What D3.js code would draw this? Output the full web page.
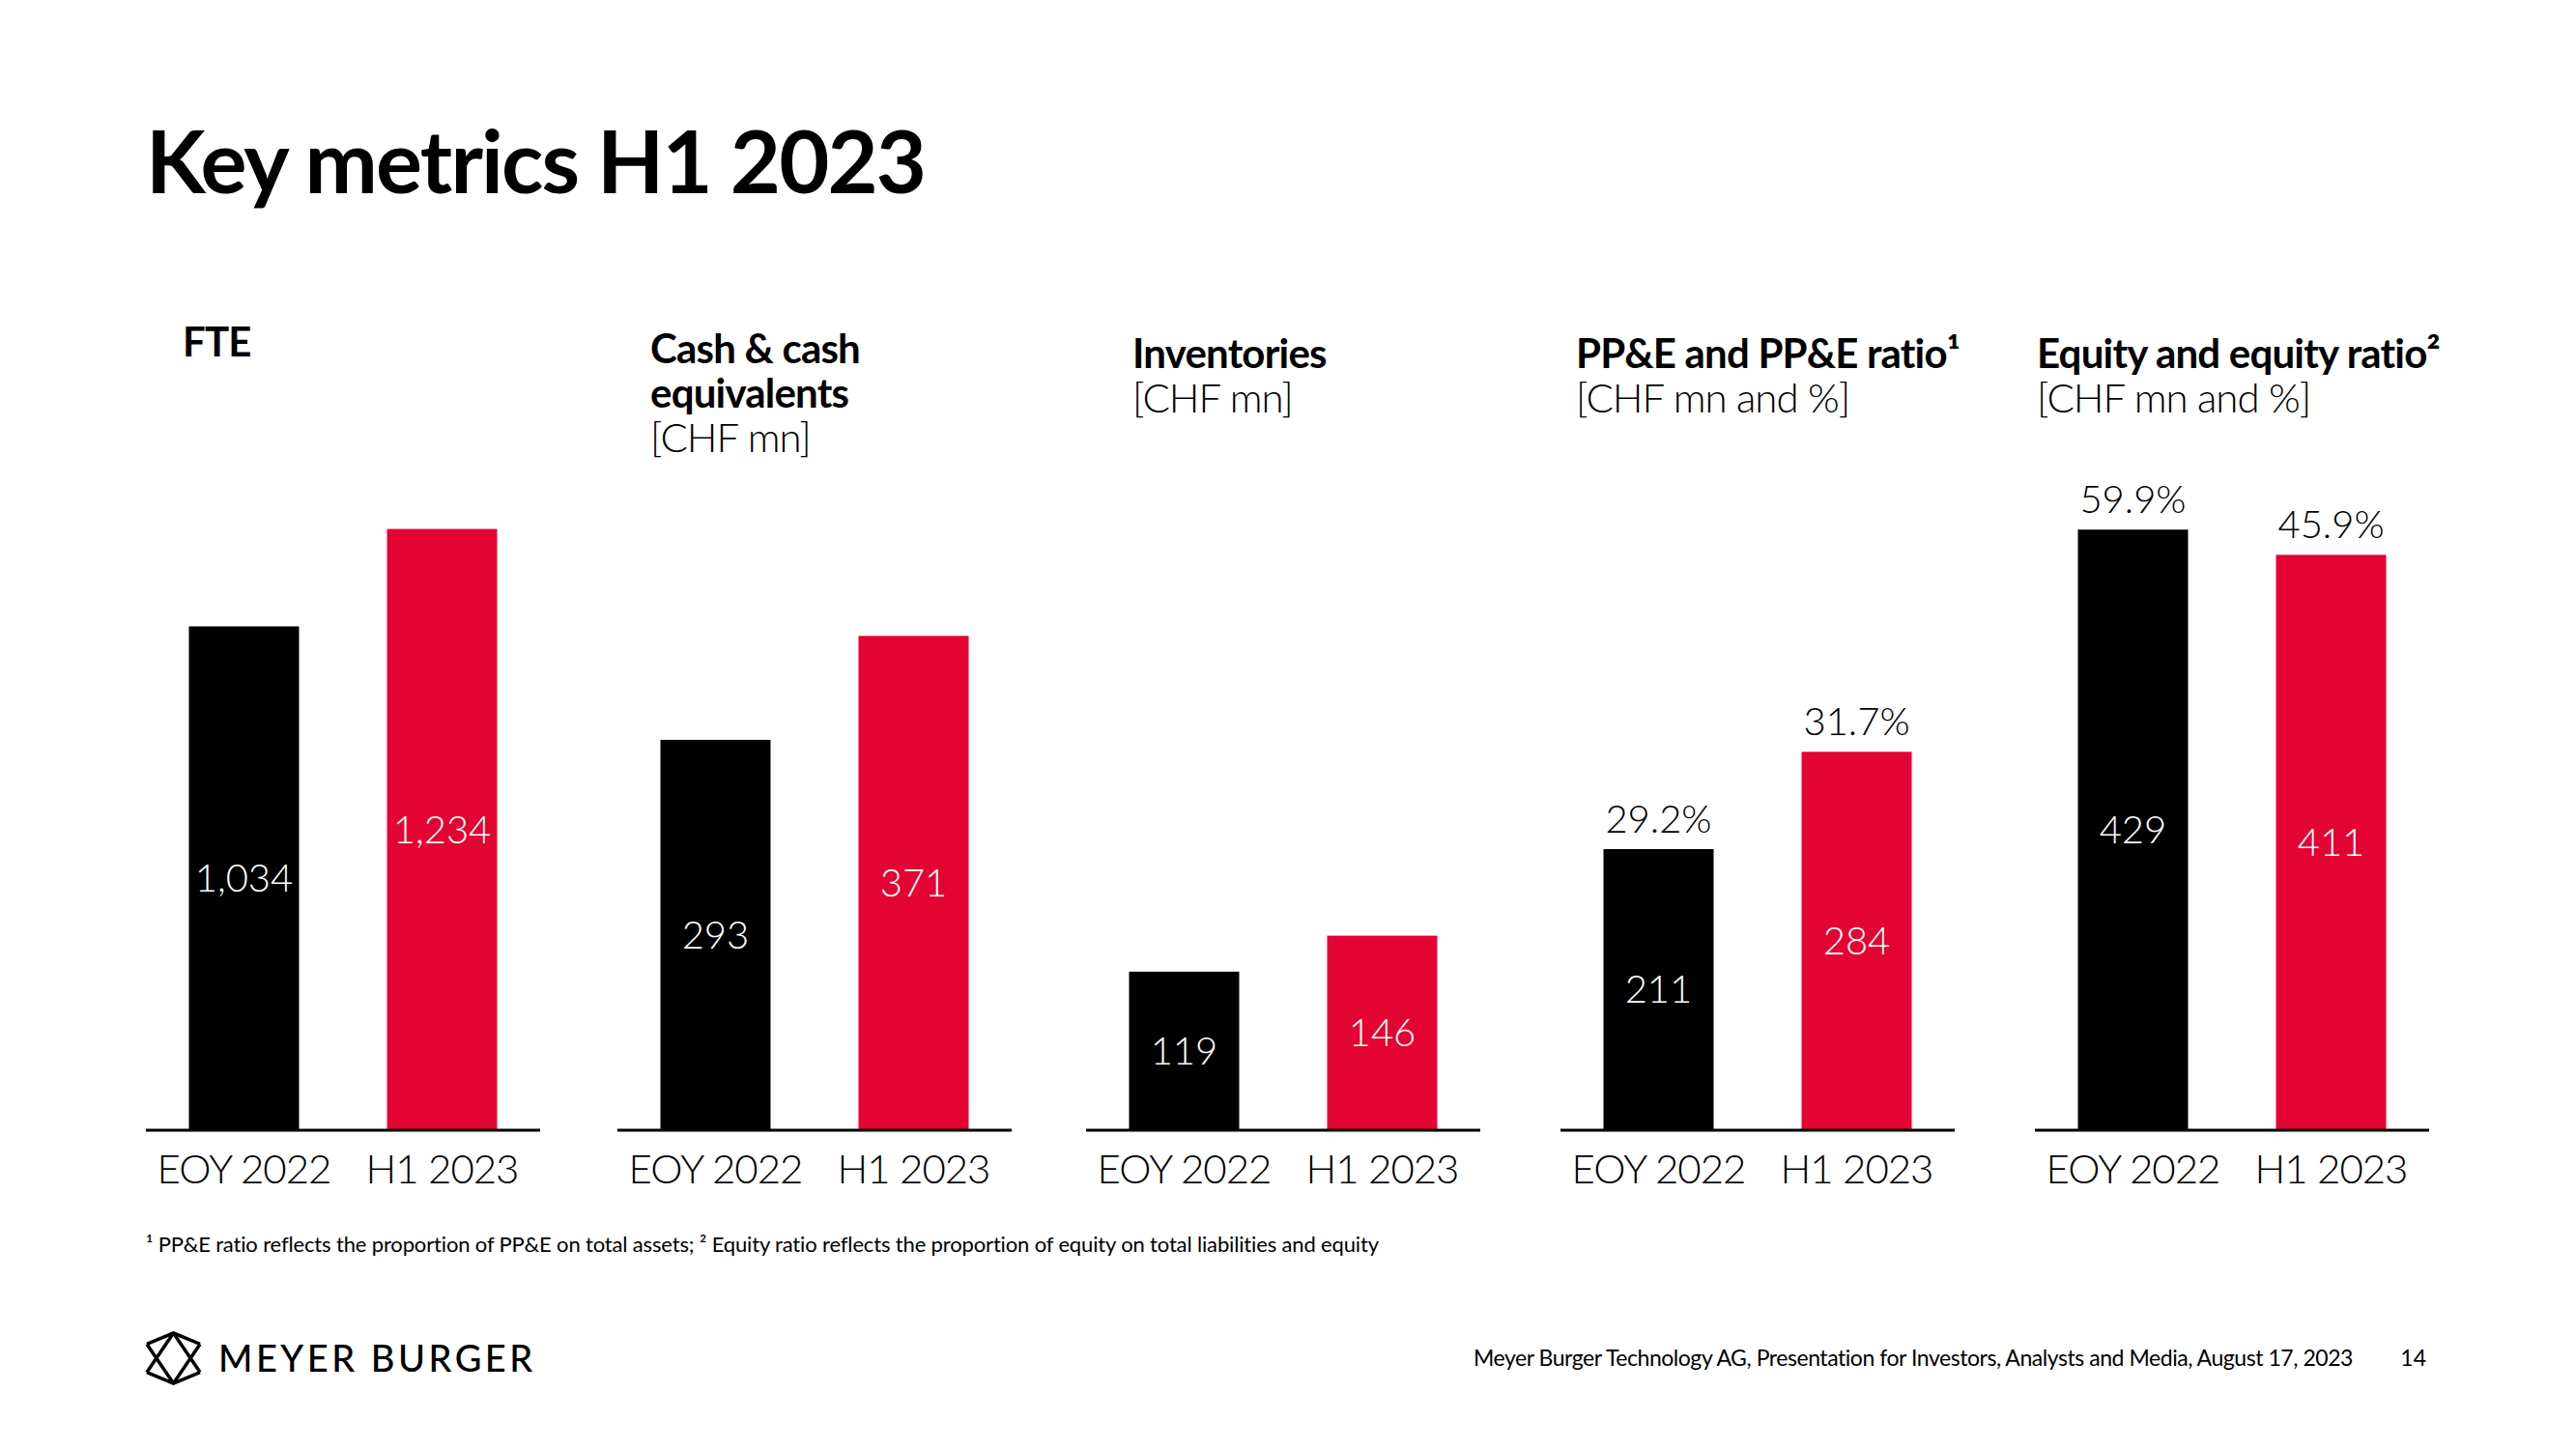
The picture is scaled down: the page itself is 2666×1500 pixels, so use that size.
<!DOCTYPE html>
<html>
<head>
<meta charset="utf-8">
<script src="https://cdn.jsdelivr.net/npm/d3@7"></script>
<style>
  html, body { margin: 0; padding: 0; background: #fff; }
  svg { display: block; }
  text { font-family: Lato, "Open Sans", sans-serif; }
</style>
</head>
<body>
<svg id="chart" width="2666" height="1500"></svg>
<script>
// ---- Data ----
const categories = ["EOY 2022", "H1 2023"];
const fte = [1034, 1234];
const cash = [293, 371];
const inventories = [119, 146];
const ppe = [211, 284];
const ppeRatio = [29.2, 31.7];
const equity = [429, 411];
const equityRatio = [59.9, 45.9];

const panelTitles = [
  { bold: ["FTE"], light: [] },
  { bold: ["Cash & cash", "equivalents"], light: ["[CHF mn]"] },
  { bold: ["Inventories"], light: ["[CHF mn]"] },
  { bold: ["PP&E and PP&E ratio¹"], light: ["[CHF mn and %]"] },
  { bold: ["Equity and equity ratio²"], light: ["[CHF mn and %]"] }
];

const titleText = "Key metrics H1 2023";
const footnoteText = "¹ PP&E ratio reflects the proportion of PP&E on total assets; ² Equity ratio reflects the proportion of equity on total liabilities and equity";
const footerText = "Meyer Burger Technology AG, Presentation for Investors, Analysts and Media, August 17, 2023";
const pageNumber = "14";
const logoText = "MEYER BURGER";

// ---- Layout ----
const RED = "#E30433";
const colors = ["#000000", RED];
const baseY = 1170, topY = 370;
const panelW = 408;

const panels = [
  { x: 151, values: fte, ratios: null, dmax: 1586, titleX: 189, titleY: 369 },
  { x: 639, values: cash, ratios: null, dmax: 580, titleX: 673, titleY: 376 },
  { x: 1124, values: inventories, ratios: null, dmax: 580, titleX: 1172, titleY: 381 },
  { x: 1615, values: ppe, ratios: ppeRatio, dmax: 580, titleX: 1631, titleY: 381 },
  { x: 2106, values: equity, ratios: equityRatio, dmax: 552, titleX: 2108, titleY: 381 }
];

const svg = d3.select("#chart");

// Title
svg.append("text")
  .attr("x", 151).attr("y", 200)
  .attr("font-size", 90).attr("font-weight", 700)
  .attr("letter-spacing", -1.9)
  .attr("fill", "#000")
  .text(titleText);

const x = d3.scaleBand().domain(categories).range([0, panelW])
  .paddingInner(0.444).paddingOuter(0.217);

panels.forEach((p, i) => {
  const g = svg.append("g").attr("transform", `translate(${p.x},0)`);
  const y = d3.scaleLinear().domain([0, p.dmax]).range([baseY, topY]);

  // panel title
  const t = panelTitles[i];
  const tg = svg.append("g");
  let ly = p.titleY;
  t.bold.forEach(line => {
    tg.append("text").attr("x", p.titleX).attr("y", ly)
      .attr("font-size", 42).attr("font-weight", 700).attr("letter-spacing", -0.8)
      .attr("fill", "#000").text(line);
    ly += 46;
  });
  t.light.forEach(line => {
    tg.append("text").attr("x", p.titleX).attr("y", ly)
      .attr("font-size", 42).attr("font-weight", 300).attr("letter-spacing", -1)
      .attr("fill", "#000").text(line);
    ly += 46;
  });

  // bars
  g.selectAll("rect.bar").data(p.values).enter().append("rect")
    .attr("class", "bar")
    .attr("x", (d, j) => x(categories[j]))
    .attr("width", x.bandwidth())
    .attr("y", d => y(d))
    .attr("height", d => baseY - y(d))
    .attr("fill", (d, j) => colors[j]);

  // value labels
  g.selectAll("text.val").data(p.values).enter().append("text")
    .attr("class", "val")
    .attr("x", (d, j) => x(categories[j]) + x.bandwidth() / 2)
    .attr("y", d => (y(d) + baseY) / 2)
    .attr("dy", "0.35em")
    .attr("text-anchor", "middle")
    .attr("font-size", 40).attr("font-weight", 300)
    .attr("fill", "#fff")
    .text(d => d3.format(",")(d));

  // ratio labels
  if (p.ratios) {
    g.selectAll("text.ratio").data(p.ratios).enter().append("text")
      .attr("class", "ratio")
      .attr("x", (d, j) => x(categories[j]) + x.bandwidth() / 2)
      .attr("y", (d, j) => y(p.values[j]) - 17)
      .attr("text-anchor", "middle")
      .attr("font-size", 40).attr("font-weight", 300)
      .attr("fill", "#000")
      .text(d => d3.format(".1f")(d) + "%");
  }

  // axis
  const axis = d3.axisBottom(x).tickSize(0).tickPadding(0);
  const ag = g.append("g").attr("transform", `translate(0,${baseY})`).call(axis);
  ag.select(".domain").attr("stroke", "#000").attr("stroke-width", 3)
    .attr("d", `M0,0H${panelW}`);
  ag.selectAll(".tick text")
    .attr("y", 55)
    .attr("dy", 0)
    .attr("font-family", "Lato, sans-serif")
    .attr("font-size", 42).attr("font-weight", 300)
    .attr("letter-spacing", -1)
    .attr("fill", "#000");
});

// Footnote
svg.append("text")
  .attr("x", 151).attr("y", 1296)
  .attr("font-size", 22).attr("font-weight", 400)
  .attr("letter-spacing", -0.15)
  .attr("fill", "#000")
  .text(footnoteText);

// Logo icon
const icon = svg.append("g").attr("transform", "translate(152,1380)")
  .attr("fill", "none").attr("stroke", "#000").attr("stroke-width", 3.5)
  .attr("stroke-linejoin", "miter");
const iw = 55, ih = 52;
const P = (a, b) => [a * iw, b * ih];
const line = d3.line();
icon.append("path").attr("d", line([P(0, 0.22), P(0.5, 0), P(1, 0.22)]));
icon.append("path").attr("d", line([P(0, 0.78), P(0.5, 1), P(1, 0.78)]));
icon.append("path").attr("d", line([P(0, 0.22), P(0.5, 1)]));
icon.append("path").attr("d", line([P(0.5, 0), P(0, 0.78)]));
icon.append("path").attr("d", line([P(0.5, 0), P(1, 0.78)]));
icon.append("path").attr("d", line([P(1, 0.22), P(0.5, 1)]));

svg.append("text")
  .attr("x", 226).attr("y", 1420)
  .attr("font-size", 38).attr("font-weight", 500)
  .attr("letter-spacing", 3.5)
  .attr("fill", "#000")
  .text(logoText);

// Footer
svg.append("text")
  .attr("x", 2435).attr("y", 1414)
  .attr("text-anchor", "end")
  .attr("font-size", 23).attr("font-weight", 400)
  .attr("letter-spacing", -0.45)
  .attr("fill", "#000")
  .text(footerText);
svg.append("text")
  .attr("x", 2511).attr("y", 1414)
  .attr("text-anchor", "end")
  .attr("font-size", 23).attr("font-weight", 400)
  .attr("fill", "#000")
  .text(pageNumber);
</script>
</body>
</html>
